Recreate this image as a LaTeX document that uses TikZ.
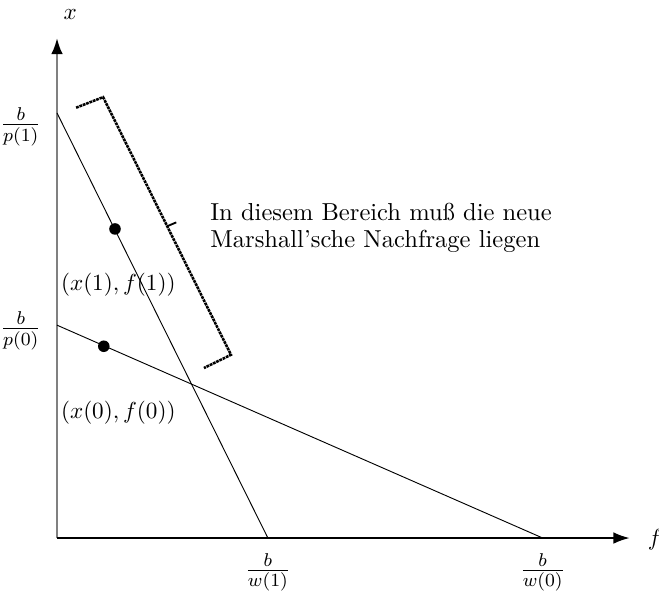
\documentclass[tikz,border=0pt]{standalone}
\usepackage{amsmath}
\usepackage{tikz}
\usetikzlibrary{positioning,arrows,arrows.meta,calc}

\begin{document}
\begin{tikzpicture}[
  axisline/.style={-{Latex[color=black,length=7pt,width=5pt]},thick},
  budget/.style={thin,black},
  bracketline/.style={line width=1.1pt,dash pattern=on 1.2pt off 0.35pt,line cap=butt},
  optpoint/.style={circle,fill=black,inner sep=0pt,minimum size=5pt},
  fraclabel/.style={font=\fontsize{11.6}{13}\selectfont},
]
\useasboundingbox (-0.865,-0.819) rectangle (9.135,8.164);

% ==== AXES ====
\coordinate (O) at (0,0);
\coordinate (ytop) at (0,7.59);
\coordinate (xend) at (8.69,0);
\draw[axisline,draw=black!50,line width=1.1pt] (O) -- (ytop);
\draw[axisline] (O) -- (xend);
\node (xlab) at (0.20,7.94) {$x$};
\node (flab) at (9.07,-0.03) {$f$};

% ==== BUDGET LINES ====
\coordinate (p1) at (0,6.45);
\coordinate (w1) at (3.20,0);
\coordinate (p0) at (0,3.23);
\coordinate (w0) at (7.37,0);
\draw[budget] (p1) -- (w1);
\draw[budget] (p0) -- (w0);

\node[fraclabel] (p1lab) at (-0.55,6.24) {$\frac{b}{p(1)}$};
\node[fraclabel] (p0lab) at (-0.55,3.14) {$\frac{b}{p(0)}$};
\node[fraclabel] (w1lab) at (3.20,-0.52) {$\frac{b}{w(1)}$};
\node[fraclabel] (w0lab) at (7.37,-0.52) {$\frac{b}{w(0)}$};

% ==== DEMAND POINTS ====
\node[optpoint] (d1) at (0.88,4.69) {};
\node[optpoint] (d0) at (0.71,2.91) {};
\node (d1lab) at (0.93,3.85) {$(x(1),f(1))$};
\node (d0lab) at (0.93,1.90) {$(x(0),f(0))$};

% ==== BRACKET ====
\coordinate (bA) at (0.29,6.53);
\coordinate (bB) at (0.70,6.69);
\coordinate (bC) at (2.64,2.78);
\coordinate (bD) at (2.23,2.58);
\coordinate (tA) at (1.67,4.73);
\coordinate (tB) at (1.81,4.79);
\draw[bracketline] (bA) -- (bB) -- (bC) -- (bD);
\draw[thick] (tA) -- (tB);

\node[anchor=west,align=left,inner sep=0pt,font=\fontsize{10.6}{11.6}\selectfont] (region) at (2.32,4.70)
  {In diesem Bereich muß die neue\\Marshall'sche Nachfrage liegen};

\end{tikzpicture}
\end{document}
